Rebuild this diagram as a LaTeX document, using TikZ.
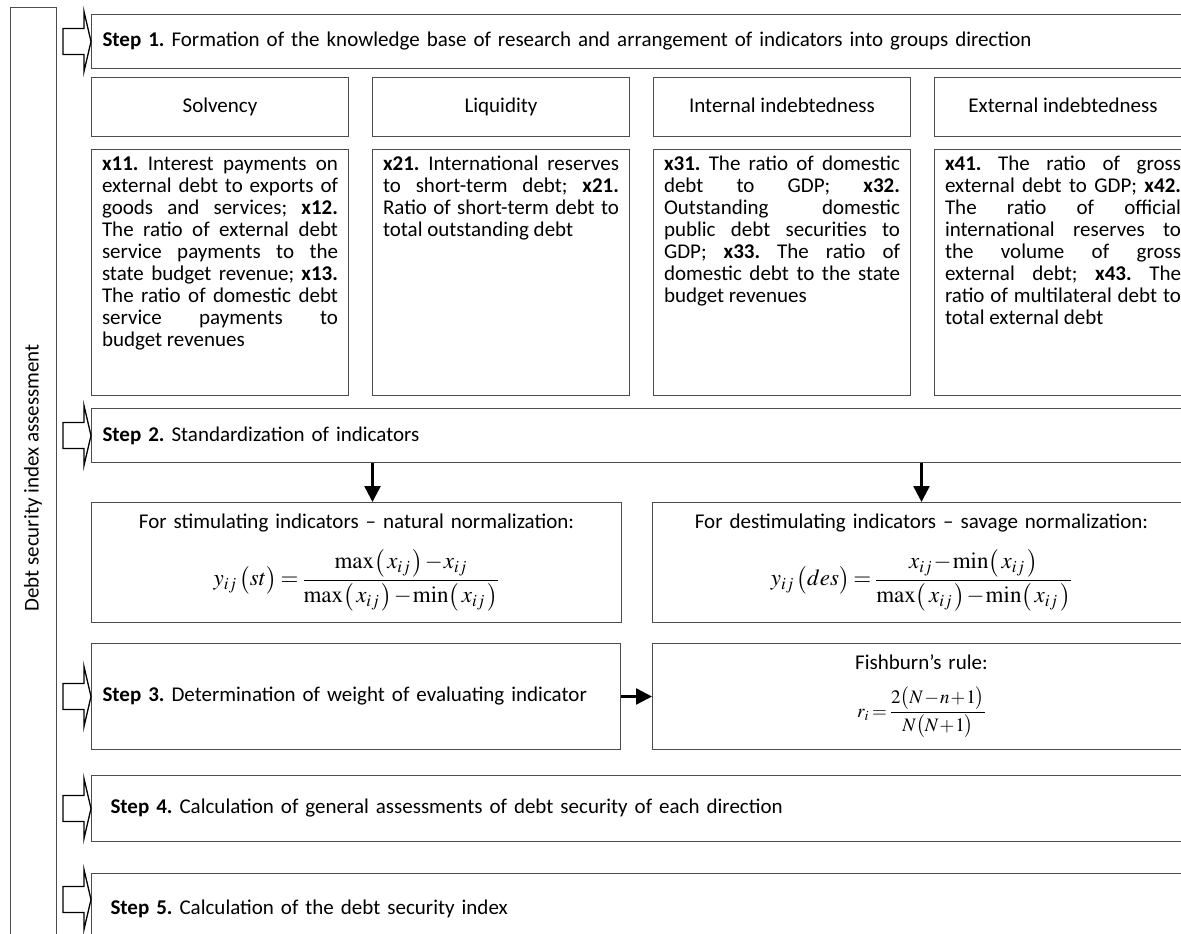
\documentclass[tikz,border=0pt]{standalone}
\usepackage{mathptmx}
\usepackage[no-math]{fontspec}
\setmainfont{Carlito}
\usetikzlibrary{arrows.meta, positioning, calc}

% block arrow in front of a step
\newcommand{\steparrow}[1]{%
  \draw[blockarr] (#1) -- ++(-7,-30) -- ++(0,17) -- ++(-21,0) -- ++(0,26)
    -- ++(21,0) -- ++(0,17) -- cycle;}
% justified indicator text, lines as in the source
\newcommand{\indtext}[1]{\parbox[c][234.8pt][t]{236pt}{\hyphenpenalty=10000
  \exhyphenpenalty=10000 \tolerance=10000 \strut#1}}
% formula size
\newcommand{\fmath}[2][23]{{\fontsize{#1}{#1}\selectfont\medmuskip=1mu\thickmuskip=3mu$\displaystyle #2$}}
\newcommand{\px}{\bigl(\,x_{ij}\,\bigr)}

\begin{document}
\begin{tikzpicture}[x=1pt, y=-1pt,
    font=\fontsize{21}{22}\selectfont\frenchspacing,
    box/.style={rectangle, draw=black!70, line width=1pt, anchor=north west, inner sep=0pt},
    stepbox/.style={box, inner xsep=11pt, text width=1077pt, align=left, minimum height=#1},
    grpbox/.style={box, minimum width=257pt, minimum height=59pt, align=center,
                   text height=14pt, text depth=4pt},
    txtbox/.style={box, inner xsep=10.5pt, inner ysep=5.6pt},
    formbox/.style={box, align=center, minimum height=#1},
    blockarr/.style={draw=black, line width=1.3pt, fill=white},
    arr/.style={-{Triangle[length=16pt, width=16pt]}, line width=2.5pt, black}
  ]
  \useasboundingbox (0,0) rectangle (1181,934);
  \clip (0,0) rectangle (1181,934);

  \node[box, anchor=center, rotate=90, minimum width=940pt, minimum height=46pt] (lbox)
    at (33,478) {Debt security index assessment};

  % step 1 and the four directions
  \node[stepbox=54pt] (s1) at (91,14) {\textbf{Step 1.} Formation of the knowledge base of research and arrangement of indicators into groups direction};
  \node[grpbox] (g1) at (91,77) {Solvency};
  \node[grpbox, right=23pt of g1] (g2) {Liquidity};
  \node[grpbox, right=23pt of g2] (g3) {Internal indebtedness};
  \node[grpbox, right=23pt of g3] (g4) {External indebtedness};

  \node[txtbox, below=12pt of g1] (t1) {\indtext{\textbf{x11.} Interest payments on\linebreak
    external debt to exports of\linebreak goods and services; \textbf{x12.}\linebreak
    The ratio of external debt\linebreak service payments to the\linebreak
    state budget revenue; \textbf{x13.}\linebreak The ratio of domestic debt\linebreak
    service payments to\linebreak budget revenues}};
  \node[txtbox, below=12pt of g2] (t2) {\indtext{\textbf{x21.} International reserves\linebreak
    to short-term debt; \textbf{x21.}\linebreak Ratio of short-term debt to\linebreak
    total outstanding debt}};
  \node[txtbox, below=12pt of g3] (t3) {\indtext{\textbf{x31.} The ratio of domestic\linebreak
    debt to GDP; \textbf{x32.}\linebreak Outstanding domestic\linebreak
    public debt securities to\linebreak GDP; \textbf{x33.} The ratio of\linebreak
    domestic debt to the state\linebreak budget revenues}};
  \node[txtbox, below=12pt of g4] (t4) {\indtext{\textbf{x41.} The ratio of gross\linebreak
    external debt to GDP; \textbf{x42.}\linebreak The ratio of official\linebreak
    international reserves to\linebreak the volume of gross\linebreak
    external debt; \textbf{x43.} The\linebreak ratio of multilateral debt to\linebreak
    total external debt}};

  % step 2 and normalization
  \node[stepbox=54pt] (s2) at (91,408) {\textbf{Step 2.} Standardization of indicators};
  \node[formbox=120pt, minimum width=530pt, text width=510pt] (f1) at (91,502)
    {For stimulating indicators – natural normalization:\\[16pt]
     \fmath{y_{ij}\,\bigl(st\bigr)=\frac{\max\px-x_{ij}}{\max\px-\min\px}}};
  \node[formbox=120pt, minimum width=538pt, text width=518pt] (f2) at (652,502)
    {For destimulating indicators – savage normalization:\\[16pt]
     \fmath{y_{ij}\,\bigl(des\bigr)=\frac{x_{ij}-\min\px}{\max\px-\min\px}}};

  % step 3 and weights
  \node[stepbox=106pt, text width=507pt] (s3) at (91,643) {\textbf{Step 3.} Determination of weight of evaluating indicator};
  \node[formbox=106pt, minimum width=538pt, text width=518pt] (fb) at (652,643)
    {Fishburn’s rule:\\[16pt]
     \fmath[19]{r_i=\frac{2\bigl(N-n+1\bigr)}{N\bigl(N+1\bigr)}}};

  % steps 4 and 5
  \node[stepbox=66pt, inner xsep=19pt, text width=1061pt] (s4) at (91,775) {\textbf{Step 4.} Calculation of general assessments of debt security of each direction};
  \node[stepbox=70pt, inner xsep=19pt, text width=1061pt] (s5) at (91,873) {\textbf{Step 5.} Calculation of the debt security index};

  \steparrow{s1.west}
  \steparrow{s2.west}
  \steparrow{s3.west}
  \steparrow{s4.west}
  \steparrow{[yshift=9pt]s5.west}

  \draw[arr] ([xshift=16pt]f1.north |- s2.south) -- ([xshift=16pt]f1.north);
  \draw[arr] (f2.north |- s2.south) -- (f2.north);
  \draw[arr] (s3.east) -- (fb.west);
\end{tikzpicture}
\end{document}
